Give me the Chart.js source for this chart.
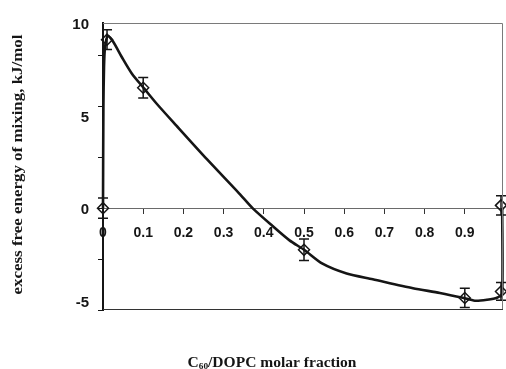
<!DOCTYPE html>
<html>
<head>
<meta charset="utf-8">
<script src="https://cdn.jsdelivr.net/npm/chart.js@4.4.1/dist/chart.umd.min.js"></script>
<style>
  html, body { margin: 0; padding: 0; background: #fff; }
</style>
</head>
<body>
<canvas id="mixChart" width="506" height="369"></canvas>
<script>
// measured points: C60 molar fraction vs excess free energy (kJ/mol)
const fractions = [0, 0.01, 0.1, 0.5, 0.9, 0.99, 0.99];
const energies = [0, 9.1, 6.5, -2.25, -4.85, -4.5, 0.15];
const errors = [0.55, 0.53, 0.55, 0.58, 0.52, 0.48, 0.52];

// smooth fit through the data
const fitX = [0, 0.001, 0.0025, 0.005, 0.012, 0.025, 0.047, 0.072, 0.102, 0.132,
  0.182, 0.259, 0.339, 0.372, 0.421, 0.464, 0.501, 0.546, 0.606, 0.671,
  0.771, 0.838, 0.895, 0.925, 0.955, 0.98, 0.993, 0.993];
const fitY = [0, 5.5, 7.6, 8.7, 9.3, 9.0, 8.15, 7.26, 6.47, 5.68,
  4.47, 2.63, 0.79, 0, -0.95, -1.74, -2.26, -3.0, -3.53, -3.84,
  -4.32, -4.58, -4.84, -5.0, -4.95, -4.84, -4.58, 0];

// axis labels and tick marks
const yLabels = [-5, 0, 5, 10];
const yMarks = [-5.5, -2.75, 0, 2.75, 5.5, 8.25];

const ink = "#151515";
const serif = "'Liberation Serif'";

// vertical error bars with caps
const errorBars = {
  id: "errorBars",
  afterDatasetsDraw(chart) {
    const { ctx, scales } = chart;
    ctx.save();
    ctx.strokeStyle = ink;
    ctx.lineWidth = 1.5;
    fractions.forEach((fx, i) => {
      const px = scales.x.getPixelForValue(fx);
      const top = scales.y.getPixelForValue(energies[i] + errors[i]);
      const bot = scales.y.getPixelForValue(energies[i] - errors[i]);
      ctx.beginPath();
      ctx.moveTo(px, top);
      ctx.lineTo(px, bot);
      ctx.moveTo(px - 5, top);
      ctx.lineTo(px + 5, top);
      ctx.moveTo(px - 5, bot);
      ctx.lineTo(px + 5, bot);
      ctx.stroke();
    });
    ctx.restore();
  },
};

// box around the plot and the small marks on the left axis
const frame = {
  id: "frame",
  afterDraw(chart) {
    const { ctx, chartArea: a, scales } = chart;
    ctx.save();
    ctx.lineWidth = 1;
    ctx.strokeStyle = "#7a7a7a";
    ctx.beginPath();
    ctx.moveTo(a.left, a.top + 0.5);
    ctx.lineTo(a.right - 0.5, a.top + 0.5);
    ctx.lineTo(a.right - 0.5, a.bottom);
    ctx.stroke();
    ctx.strokeStyle = "#333";
    ctx.beginPath();
    ctx.moveTo(a.left, a.bottom - 0.5);
    ctx.lineTo(a.right, a.bottom - 0.5);
    ctx.stroke();
    ctx.strokeStyle = ink;
    yMarks.forEach((v) => {
      const py = Math.round(scales.y.getPixelForValue(v)) + 0.5;
      ctx.beginPath();
      ctx.moveTo(a.left - 5, py);
      ctx.lineTo(a.left, py);
      ctx.stroke();
    });
    ctx.restore();
  },
};

// draws text runs (font, dy) stretched to a given length, centred at 0,0
function drawRuns(ctx, runs, length) {
  let total = 0;
  runs.forEach((r) => {
    ctx.font = r[1];
    total += ctx.measureText(r[0]).width;
  });
  ctx.scale(length / total, 1);
  let x = -total / 2;
  runs.forEach((r) => {
    ctx.font = r[1];
    ctx.fillText(r[0], x, r[2]);
    x += ctx.measureText(r[0]).width;
  });
}

// axis titles
const axisTitles = {
  id: "axisTitles",
  afterDraw(chart) {
    const { ctx, chartArea: a } = chart;
    ctx.save();
    ctx.fillStyle = ink;
    ctx.textBaseline = "alphabetic";
    ctx.translate(272, 367);
    drawRuns(ctx, [
      ["C", "bold 15px " + serif, 0],
      ["60", "bold 9px " + serif, 2],
      ["/DOPC molar fraction", "bold 15px " + serif, 0],
    ], 169);
    ctx.restore();

    ctx.save();
    ctx.fillStyle = ink;
    ctx.textBaseline = "middle";
    ctx.translate(18, (a.top + a.bottom) / 2 - 2);
    ctx.rotate(-Math.PI / 2);
    drawRuns(ctx, [["excess free energy of mixing, kJ/mol", "bold 15px " + serif, 0]], 260);
    ctx.restore();
  },
};

new Chart(document.getElementById("mixChart"), {
  type: "scatter",
  data: {
    datasets: [
      {
        label: "points",
        data: fractions.map((x, i) => ({ x: x, y: energies[i] })),
        pointStyle: "rectRot",
        pointRadius: 5.5,
        pointBorderWidth: 1.5,
        pointBorderColor: ink,
        pointBackgroundColor: "rgba(0,0,0,0)",
        showLine: false,
        order: 0,
      },
      {
        label: "fit",
        data: fitX.map((x, i) => ({ x: x, y: fitY[i] })),
        showLine: true,
        borderColor: ink,
        borderWidth: 2.6,
        pointRadius: 0,
        tension: 0.25,
        fill: false,
        order: 1,
      },
    ],
  },
  options: {
    responsive: false,
    animation: false,
    clip: false,
    layout: {
      autoPadding: false,
      padding: { top: 15, right: 3, bottom: 59, left: 0 },
    },
    plugins: {
      legend: { display: false },
      tooltip: { enabled: false },
    },
    scales: {
      x: {
        type: "linear",
        position: { y: 0 },
        min: 0,
        max: 0.995,
        afterFit: (scale) => {
          scale.paddingLeft = 0;
          scale.paddingRight = 0;
        },
        border: { display: true, color: "#6a6a6a", width: 1 },
        grid: {
          display: true,
          drawOnChartArea: false,
          drawTicks: true,
          tickLength: 5,
          color: "#333",
        },
        ticks: {
          stepSize: 0.1,
          includeBounds: false,
          autoSkip: false,
          maxRotation: 0,
          padding: 12,
          color: ink,
          font: { family: "'Liberation Sans'", weight: "bold", size: 14 },
          callback: (v) => (v === 0 ? "0" : v.toFixed(1)),
        },
      },
      y: {
        type: "linear",
        position: "left",
        min: -5.5,
        max: 10,
        afterBuildTicks: (scale) => {
          scale.ticks = yLabels.map((v) => ({ value: v }));
        },
        afterFit: (scale) => {
          scale.width = 103;
        },
        border: { display: true, color: ink, width: 2 },
        grid: { display: true, drawOnChartArea: false, drawTicks: false },
        ticks: {
          padding: 14,
          labelOffset: 2,
          color: ink,
          font: { family: "'Liberation Sans'", weight: "bold", size: 15 },
        },
      },
    },
  },
  plugins: [errorBars, frame, axisTitles],
});
</script>
</body>
</html>
